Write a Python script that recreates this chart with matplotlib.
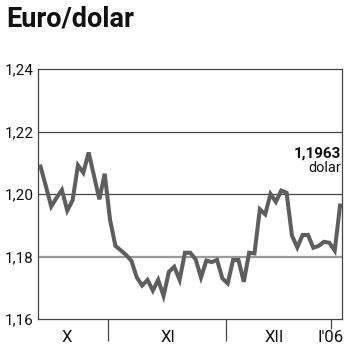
import numpy as np
import matplotlib
matplotlib.use("Agg")
import matplotlib.pyplot as plt
import matplotlib.transforms as mtransforms

# kurs euro/dolar, dzienne notowania
kurs = [1.2088, 1.2025, 1.1960, 1.1988, 1.2013, 1.1947, 1.1980, 1.2092,
        1.2068, 1.2133, 1.2058, 1.1983, 1.2065, 1.1917, 1.1834, 1.1820,
        1.1805, 1.1786, 1.1733, 1.1707, 1.1725, 1.1691, 1.1725, 1.1674,
        1.1751, 1.1767, 1.1725, 1.1812, 1.1812, 1.1791, 1.1733, 1.1787,
        1.1782, 1.1789, 1.1730, 1.1714, 1.1789, 1.1789, 1.1719, 1.1812,
        1.1810, 1.1951, 1.1935, 1.2000, 1.1975, 1.2011, 1.2004, 1.1867,
        1.1829, 1.1869, 1.1869, 1.1828, 1.1834, 1.1847, 1.1844, 1.1819,
        1.1963]

granice_mies = [12.6, 34.7]          # przejscia X/XI, XI/XII
poczatek_2006 = 54.3
miesiace = ["X", "XI", "XII", "I'06"]
poz_miesiecy = [4.9, 23.8, 43.7, 54.3]

y_ticks = [1.16, 1.18, 1.20, 1.22, 1.24]
y_labels = ["1,16", "1,18", "1,20", "1,22", "1,24"]

plt.rcParams['font.family'] = ['Roboto', 'DejaVu Sans']

fig = plt.figure(figsize=(3.5, 3.51), dpi=100)
ax = fig.add_axes([38/350, 32/351, 304/350, 250/351])

# linie siatki
ax.axhline(1.22, color="#444444", lw=0.9, zorder=1)
ax.axhline(1.20, color="#444444", lw=0.9, zorder=1)
ax.axhline(1.18, color="#9a9a9a", lw=1.6, zorder=1)

x = np.arange(len(kurs))
ax.plot(x, kurs, color="#5e5e5e", lw=2.9, solid_joinstyle="miter", zorder=3)

ax.set_xlim(-0.47, 56.36)
ax.set_ylim(1.16, 1.24)

for s in ax.spines.values():
    s.set_color("#444444")
    s.set_linewidth(0.9)

ax.set_yticks(y_ticks)
ax.set_yticklabels(y_labels)
ax.tick_params(axis="y", length=0, pad=3, labelsize=11, colors="#111111")

ax.set_xticks(granice_mies)
ax.set_xticklabels([])
ax.set_xticks([poczatek_2006], minor=True)
ax.tick_params(axis="x", which="major", length=16, width=0.9, color="#444444")
ax.tick_params(axis="x", which="minor", length=7, width=0.9, color="#444444")

trans = mtransforms.blended_transform_factory(ax.transData, ax.transAxes)
for m, p in zip(miesiace, poz_miesiecy):
    ax.text(p, -0.045, m, transform=trans, ha="center", va="top",
            fontsize=12, color="#111111")

ax.text(0.997, 0.644, "1,1963", transform=ax.transAxes, ha="right",
        va="baseline", fontsize=11, fontweight="bold", color="#111111")
ax.text(0.997, 0.632, "dolar", transform=ax.transAxes, ha="right",
        va="top", fontsize=10.5, color="#111111")

fig.text(6/350, 1 - 26/351, "Euro/dolar", fontsize=19.5, fontweight="bold",
         ha="left", va="baseline", color="#111111")

fig.savefig("out.png", dpi=100)
